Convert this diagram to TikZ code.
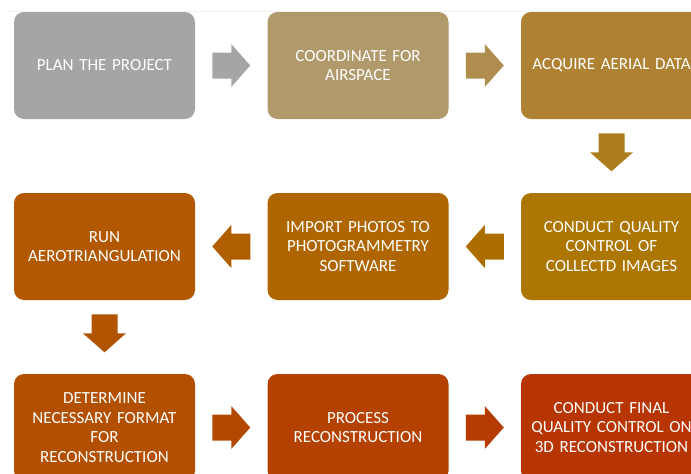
\documentclass[tikz,border=0pt]{standalone}
\usepackage{fontspec}
\setmainfont{Carlito}
\usetikzlibrary{positioning,calc}
\definecolor{planc}{HTML}{A5A5A5}
\definecolor{coordc}{HTML}{B0996B}
\definecolor{acqc}{HTML}{AE8232}
\definecolor{qualc}{HTML}{AC7600}
\definecolor{impc}{HTML}{AF6600}
\definecolor{aeroc}{HTML}{B15800}
\definecolor{formc}{HTML}{B25000}
\definecolor{procc}{HTML}{B44100}
\definecolor{finalc}{HTML}{B73500}
\begin{document}
\begin{tikzpicture}[x=1pt,y=-1pt,
  box/.style={fill=#1, rounded corners=10pt, minimum width=181pt,
    minimum height=107pt, text width=175pt, inner sep=0pt, align=center,
    text=white, font=\fontsize{17}{19.5}\selectfont},
  blockarrow/.pic={\fill (-19,-13) -- (0,-13) -- (0,-21.5) -- (19,0)
    -- (0,21.5) -- (0,13) -- (-19,13) -- cycle;}]
  \useasboundingbox (0,0) rectangle (691,474);
  \draw[black!6] (10,11) -- (691,11);
  % first row
  \node[box=planc] (plan) at (104.5,65.5) {PLAN THE PROJECT};
  \node[box=coordc] (coord) at (358,65.5) {COORDINATE FOR\\AIRSPACE};
  \node[box=acqc] (acquire) at (611.5,65.5) {ACQUIRE AERIAL DATA};
  % second row
  \node[box=qualc] (quality) at (611.5,246.5) {CONDUCT QUALITY\\CONTROL OF\\COLLECTD IMAGES};
  \node[box=impc] (import) at (358,246.5) {IMPORT PHOTOS TO\\PHOTOGRAMMETRY\\SOFTWARE};
  \node[box=aeroc] (aero) at (104.5,246.5) {RUN\\AEROTRIANGULATION};
  % third row
  \node[box=formc] (format) at (104.5,427.5) {DETERMINE\\NECESSARY FORMAT\\FOR\\RECONSTRUCTION};
  \node[box=procc] (process) at (358,427.5) {PROCESS\\RECONSTRUCTION};
  \node[box=finalc] (final) at (611.5,427.5) {CONDUCT FINAL\\QUALITY CONTROL ON\\3D RECONSTRUCTION};
  % arrows
  \pic[fill=planc] at ($(plan.east)!0.5!(coord.west)$) {blockarrow};
  \pic[fill=coordc!50!acqc] at ($(coord.east)!0.5!(acquire.west)$) {blockarrow};
  \pic[fill=acqc!55!qualc, rotate=-90] at ($(acquire.south)!0.45!(quality.north)$) {blockarrow};
  \pic[fill=qualc!50!impc, rotate=180] at ($(quality.west)!0.5!(import.east)$) {blockarrow};
  \pic[fill=impc!50!aeroc, rotate=180] at ($(import.west)!0.5!(aero.east)$) {blockarrow};
  \pic[fill=aeroc!50!formc, rotate=-90] at ($(aero.south)!0.45!(format.north)$) {blockarrow};
  \pic[fill=formc!50!procc] at ($(format.east)!0.5!(process.west)$) {blockarrow};
  \pic[fill=procc!50!finalc] at ($(process.east)!0.5!(final.west)$) {blockarrow};
\end{tikzpicture}
\end{document}
